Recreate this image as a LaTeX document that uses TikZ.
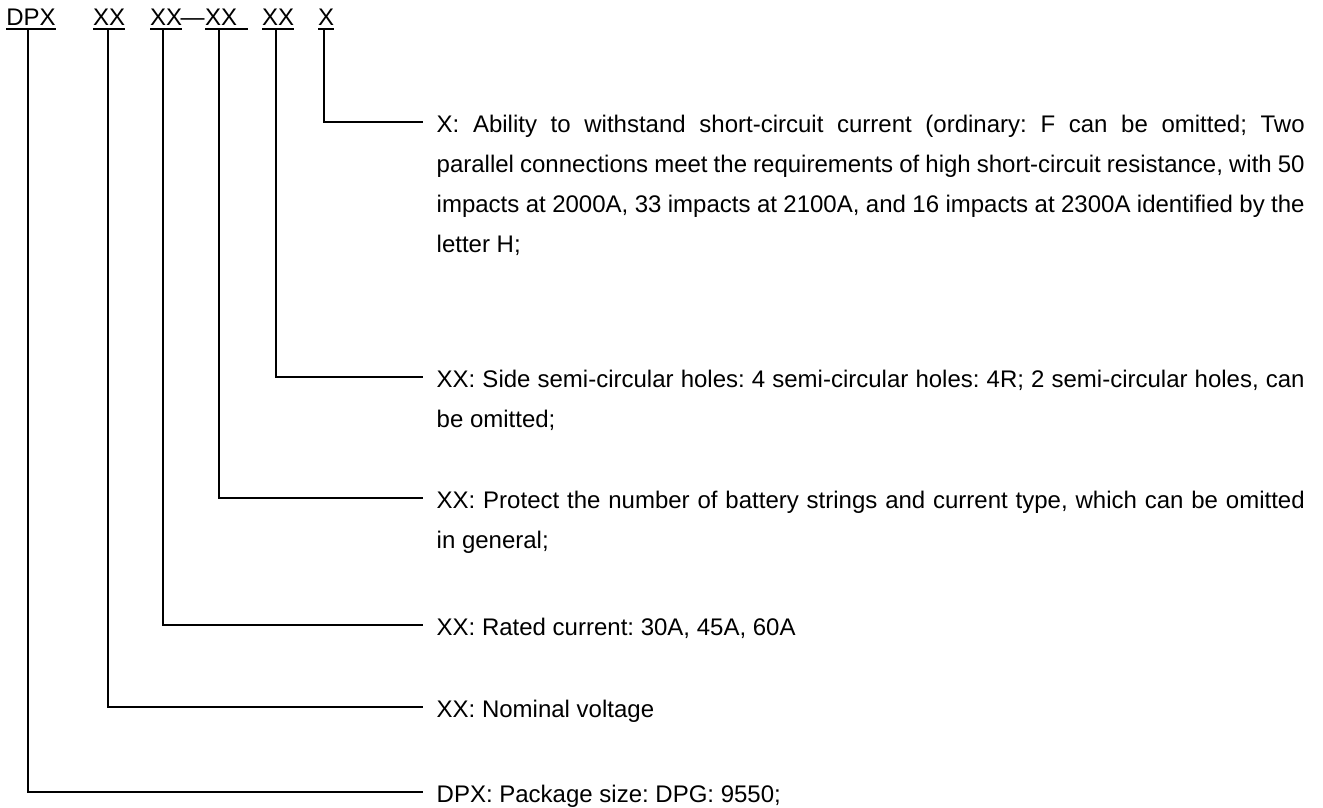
\documentclass[tikz,border=0pt]{standalone}
\usepackage{fontspec}
\setmainfont{Liberation Sans}
\frenchspacing
\newcommand{\descpar}[1]{\vtop{\hsize=868pt\baselineskip=40pt\tolerance=9999\hyphenpenalty=10000\exhyphenpenalty=10000\parindent=0pt\frenchspacing\noindent #1}}
\begin{document}
\begin{tikzpicture}[x=1pt,y=-1pt,
  lbl/.style={inner sep=0pt, anchor=base west, font=\fontsize{24}{28}\selectfont},
  desc/.style={inner sep=0pt, anchor=base west, font=\fontsize{24}{40}\selectfont\frenchspacing},
  conn/.style={line width=2pt},
  uline/.style={line width=1.5pt}]
\useasboundingbox (0,0) rectangle (1323,808);
% code labels
\node[lbl] (l1) at (6.2,26) {DPX};
\node[lbl] (l2) at (93,26) {XX};
\node[lbl] (l3) at (150,26) {XX};
\node[lbl] (dash) at (180.5,26) {—};
\node[lbl] (l4) at (205,26) {XX};
\node[lbl] (l5) at (262,26) {XX};
\node[lbl] (l6) at (318,26) {X};
% underlines
\draw[uline] ([yshift=-3pt]l1.base west) -- ([yshift=-3pt]l1.base east);
\draw[uline] ([yshift=-3pt]l2.base west) -- ([yshift=-3pt]l2.base east);
\draw[uline] ([yshift=-3pt]l3.base west) -- ([yshift=-3pt]l3.base east);
\draw[uline] ([yshift=-3pt]l4.base west) -- ([xshift=11pt,yshift=-3pt]l4.base east);
\draw[uline] ([yshift=-3pt]l5.base west) -- ([yshift=-3pt]l5.base east);
\draw[uline] ([yshift=-3pt]l6.base west) -- ([yshift=-3pt]l6.base east);
% descriptions
\node[desc] (d1) at (436.5,132) {\descpar{X: Ability to withstand short-circuit current (ordinary: F can be omitted; Two\linebreak parallel connections meet the requirements of high short-circuit resistance, with 50\linebreak impacts at 2000A, 33 impacts at 2100A, and 16 impacts at 2300A identified by the\linebreak letter H;}};
\node[desc] (d2) at (436.5,387) {\descpar{XX: Side semi-circular holes: 4 semi-circular holes: 4R; 2 semi-circular holes, can\linebreak be omitted;}};
\node[desc] (d3) at (436.5,508) {\descpar{XX: Protect the number of battery strings and current type, which can be omitted\linebreak in general;}};
\node[desc] (d4) at (436.5,635) {XX: Rated current: 30A, 45A, 60A};
\node[desc] (d5) at (436.5,717) {XX: Nominal voltage};
\node[desc] (d6) at (436.5,802) {DPX: Package size: DPG: 9550;};
% connectors
\draw[conn] ([xshift=-2pt,yshift=-3pt]l6.base) |- ([shift={(-14,-10)}]d1.base west);
\draw[conn] ([xshift=-2pt,yshift=-3pt]l5.base) |- ([shift={(-14,-10)}]d2.base west);
\draw[conn] ([xshift=-2pt,yshift=-3pt]l4.base) |- ([shift={(-14,-10)}]d3.base west);
\draw[conn] ([xshift=-3pt,yshift=-3pt]l3.base) |- ([shift={(-14,-10)}]d4.base west);
\draw[conn] ([xshift=-1pt,yshift=-3pt]l2.base) |- ([shift={(-14,-10)}]d5.base west);
\draw[conn] ([xshift=-3pt,yshift=-3pt]l1.base) |- ([shift={(-14,-10)}]d6.base west);
\end{tikzpicture}
\end{document}
